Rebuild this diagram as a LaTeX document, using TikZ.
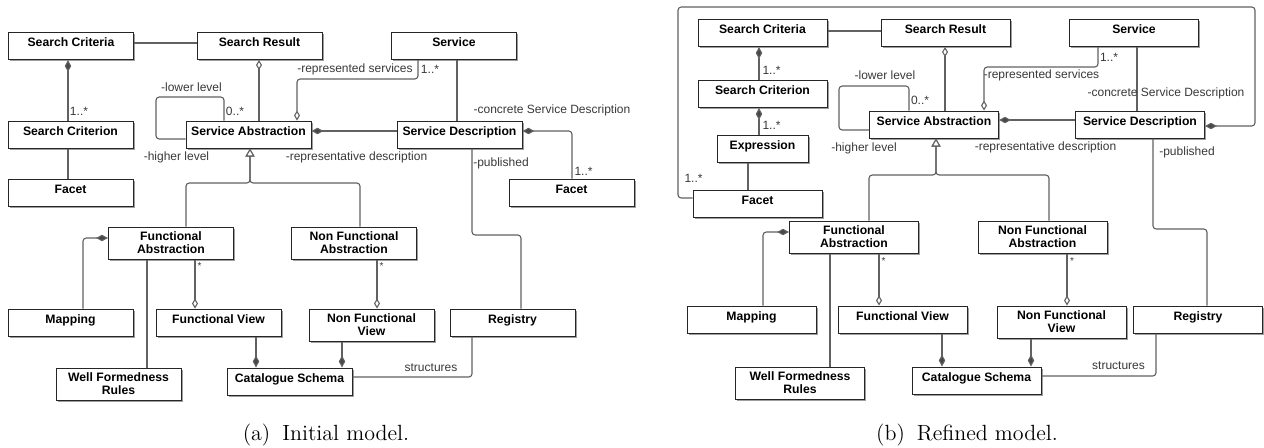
\documentclass[tikz,border=0pt]{standalone}
\usepackage{fontspec}
\newfontfamily\lib{Liberation Sans}
\usetikzlibrary{arrows.meta,shadows}
\tikzset{
  box/.style={draw=black!85, line width=0.5pt, fill=white, align=center, inner xsep=0pt, inner ysep=0pt,
    font=\lib\bfseries\fontsize{6.1pt}{6.5pt}\selectfont,
    general shadow={fill=black!38, shadow xshift=0.75pt, shadow yshift=-0.75pt}},
  oneline/.style={text height=7pt, text depth=6.5pt},
  twoline/.style={minimum height=16pt},
  wA/.style={minimum width=62.5pt},
  wB/.style={minimum width=64.5pt},
  conn/.style={draw=black!62, line width=0.55pt, rounded corners=1.6pt},
  lbl/.style={font=\lib\fontsize{6pt}{7pt}\selectfont, text=black!78, inner sep=0pt},
  star/.style={font=\lib\fontsize{5pt}{6pt}\selectfont, text=black!78, inner sep=0pt},
  comp/.style={{Diamond[length=6pt,width=3.2pt,fill=black!72]}-},
  aggr/.style={{Diamond[open,length=5pt,width=3pt,fill=white]}-},
  gen/.style={{Triangle[open,length=4pt,width=4.5pt,fill=white]}-},
  captext/.style={font=\fontsize{11pt}{13pt}\selectfont, inner sep=0pt, anchor=base},
}
\begin{document}
\begin{tikzpicture}[x=0.5pt,y=-0.5pt]
\useasboundingbox (0,0) rectangle (1264,447);

% ================= (a) =================
\node[box,oneline,wA] (scA)  at (71,46)    {Search Criteria};
\node[box,oneline,wA] (srA)  at (259.5,46) {Search Result};
\node[box,oneline,wA] (svA)  at (454,46)   {Service};
\node[box,oneline,wA] (scnA) at (70.5,134.5) {Search Criterion};
\node[box,oneline,wA] (fcA)  at (70.5,192.5) {Facet};
\node[box,oneline,wA] (saA)  at (248.5,134.5) {Service Abstraction};
\node[box,oneline,wA] (sdA)  at (459.5,134.5) {Service Description};
\node[box,oneline,wA] (fc2A) at (571.5,192.5) {Facet};
\node[box,twoline,wA] (faA)  at (171,243)  {Functional\\Abstraction};
\node[box,twoline,wA] (nfaA) at (354,243)  {Non Functional\\Abstraction};
\node[box,oneline,wA] (mpA)  at (70.5,322.5) {Mapping};
\node[box,oneline,wA] (fvA)  at (218.5,322.5) {Functional View};
\node[box,twoline,wA] (nfvA) at (371.5,325) {Non Functional\\View};
\node[box,oneline,wA] (rgA)  at (512.5,322.5) {Registry};
\node[box,twoline,wA] (wfA)  at (118.5,384) {Well Formedness\\Rules};
\node[box,oneline,wA] (csA)  at (289.5,381.5) {Catalogue Schema};

\draw[conn] (scA.east |- 0,43) -- (srA.west |- 0,43);
\draw[conn,comp] (scA.south -| 68,0) -- (scnA.north -| 68,0);
\node[lbl] (l1) at (79,111) {1..*};
\draw[conn] (scnA.south -| 68,0) -- (fcA.north -| 68,0);
\draw[conn,aggr] (srA.south -| 259,0) -- (saA.north -| 259,0);
\draw[conn] (saA.north -| 224,0) |- (156,97) |- (saA.west |- 0,139);
\node[lbl] (l2) at (191.5,87) {-lower level};
\node[lbl] (l3) at (235,111) {0..*};
\node[lbl] (l4) at (176.5,157.5) {-higher level};
\draw[conn,aggr] (saA.north -| 297,0) |- (418,79) -- (svA.south -| 418,0);
\node[lbl] (l5) at (355,69) {-represented services};
\node[lbl] (l6) at (430,69) {1..*};
\draw[conn] (svA.south -| 457,0) -- (sdA.north -| 457,0);
\draw[conn,comp] (saA.east |- 0,131) -- (sdA.west |- 0,131);
\node[lbl] (l7) at (356.5,157.5) {-representative description};
\draw[conn,comp] (sdA.east |- 0,131) -| (fc2A.north -| 572,0);
\node[lbl] (l8) at (552,110.5) {-concrete Service Description};
\node[lbl] (l9) at (583.5,171) {1..*};
\draw[conn] (sdA.south -| 472,0) |- (521,235) -- (rgA.north -| 521,0);
\node[lbl] (l10) at (501,163) {-published};
\draw[conn,gen] (saA.south -| 250,0) |- (186,183) -- (faA.north -| 186,0);
\draw[conn,gen] (saA.south -| 250,0) |- (360,183) -- (nfaA.north -| 360,0);
\draw[conn,comp] (faA.west |- 0,238) -| (mpA.north -| 83,0);
\draw[conn] (faA.south -| 147,0) -- (wfA.north -| 147,0);
\draw[conn,aggr] (fvA.north -| 195,0) -- (faA.south -| 195,0);
\node[star] (s1) at (199.5,266) {*};
\draw[conn,aggr] (nfvA.north -| 377,0) -- (nfaA.south -| 377,0);
\node[star] (s2) at (381.5,266) {*};
\draw[conn,comp] (csA.north -| 256,0) -- (fvA.south -| 256,0);
\draw[conn,comp] (csA.north -| 342,0) -- (nfvA.south -| 342,0);
\draw[conn] (csA.east |- 0,377) -| (rgA.south -| 472,0);
\node[lbl] (l11) at (431,368) {structures};

\node[captext] (capA) at (326,440) {(a)\hspace{6pt}Initial model.};

% ================= (b) =================
\node[box,oneline,wB] (scB)  at (762.5,33) {Search Criteria};
\node[box,oneline,wB] (srB)  at (945.5,33) {Search Result};
\node[box,oneline,wB] (svB)  at (1134,33)  {Service};
\node[box,oneline,wB] (scnB) at (762.5,94) {Search Criterion};
\node[box,oneline,minimum width=45.5pt] (exB) at (762.5,149) {Expression};
\node[box,oneline,wB] (fcB)  at (757.5,203.5) {Facet};
\node[box,oneline,wB] (saB)  at (934,124.5) {Service Abstraction};
\node[box,oneline,wB] (sdB)  at (1140,124.5) {Service Description};
\node[box,twoline,wB] (faB)  at (854,237)  {Functional\\Abstraction};
\node[box,twoline,wB] (nfaB) at (1042.5,237) {Non Functional\\Abstraction};
\node[box,oneline,wB] (mpB)  at (751.5,319.5) {Mapping};
\node[box,oneline,wB] (fvB)  at (902.5,319.5) {Functional View};
\node[box,twoline,wB] (nfvB) at (1061.5,322) {Non Functional\\View};
\node[box,oneline,wB] (rgB)  at (1198,319.5) {Registry};
\node[box,twoline,wB] (wfB)  at (800,383)  {Well Formedness\\Rules};
\node[box,oneline,wB] (csB)  at (976.5,380.5) {Catalogue Schema};

\draw[conn] (scB.east |- 0,31) -- (srB.west |- 0,31);
\draw[conn,comp] (scB.south -| 759,0) -- (scnB.north -| 759,0);
\node[lbl] (m1) at (771.5,70) {1..*};
\draw[conn,comp] (scnB.south -| 759,0) -- (exB.north -| 759,0);
\node[lbl] (m2) at (771.5,125) {1..*};
\draw[conn] (exB.south -| 748,0) -- (fcB.north -| 748,0);
\draw[conn,comp] (sdB.east |- 0,126) -| (1255,7) -| (678,198) -- (fcB.west |- 0,198);
\node[lbl] (m3) at (693.5,178.5) {1..*};
\draw[conn,aggr] (srB.south -| 945,0) -- (saB.north -| 945,0);
\draw[conn] (saB.north -| 909,0) |- (839,86) |- (saB.west |- 0,130);
\node[lbl] (m4) at (885,75) {-lower level};
\node[lbl] (m5) at (920,100) {0..*};
\node[lbl] (m6) at (864,148) {-higher level};
\draw[conn,aggr] (saB.north -| 984,0) |- (1098,67) -- (svB.south -| 1098,0);
\node[lbl] (m7) at (1041.5,75) {-represented services};
\node[lbl] (m8) at (1109,57.5) {1..*};
\draw[conn] (svB.south -| 1137,0) -- (sdB.north -| 1137,0);
\node[lbl] (m9) at (1166,93) {-concrete Service Description};
\draw[conn,comp] (saB.east |- 0,120) -- (sdB.west |- 0,120);
\node[lbl] (m10) at (1045.5,147) {-representative description};
\draw[conn] (sdB.south -| 1153,0) |- (1207,229) -- (rgB.north -| 1207,0);
\node[lbl] (m11) at (1187,152) {-published};
\draw[conn,gen] (saB.south -| 936,0) |- (869,175) -- (faB.north -| 869,0);
\draw[conn,gen] (saB.south -| 936,0) |- (1049,175) -- (nfaB.north -| 1049,0);
\draw[conn,comp] (faB.west |- 0,232) -| (mpB.north -| 763,0);
\draw[conn] (faB.south -| 830,0) -- (wfB.north -| 830,0);
\draw[conn,aggr] (fvB.north -| 879,0) -- (faB.south -| 879,0);
\node[star] (s3) at (883.5,261) {*};
\draw[conn,aggr] (nfvB.north -| 1067,0) -- (nfaB.south -| 1067,0);
\node[star] (s4) at (1072,261) {*};
\draw[conn,comp] (csB.north -| 942,0) -- (fvB.south -| 942,0);
\draw[conn,comp] (csB.north -| 1031,0) -- (nfvB.south -| 1031,0);
\draw[conn] (csB.east |- 0,376) -| (rgB.south -| 1156,0);
\node[lbl] (m12) at (1118.5,366) {structures};

\node[captext] (capB) at (967,440) {(b)\hspace{6pt}Refined model.};
\end{tikzpicture}
\end{document}
